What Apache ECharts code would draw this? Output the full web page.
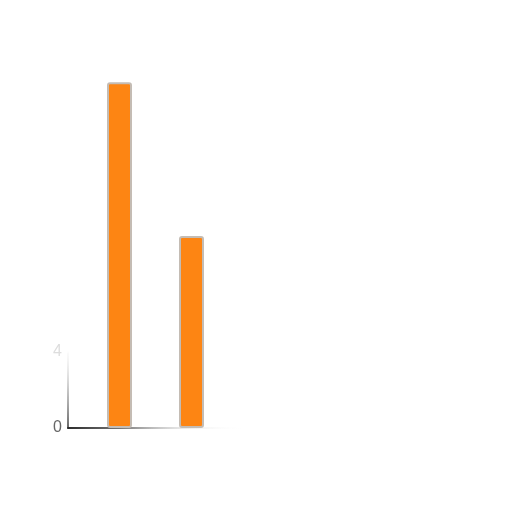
<!DOCTYPE html>
<html>
<head>
<meta charset="utf-8">
<script src="https://cdn.jsdelivr.net/npm/echarts@6/dist/echarts.min.js"></script>
<style>html,body{margin:0;padding:0;background:#fff}#c{width:512px;height:512px}</style>
</head>
<body>
<div id="c"></div>
<script>
var categories = [''];
var seriesA = [18.2];
var seriesB = [10.1];
var yTicks = ['0', '4'];

var chart = echarts.init(document.getElementById('c'));
var barStyle = {
  color: '#FD8513',
  borderColor: '#C4BCB4',
  borderWidth: 2,
  borderRadius: 2
};
chart.setOption({
  animation: false,
  grid: {left: 68, right: 269, top: 48, bottom: 84},
  xAxis: {
    type: 'category',
    data: categories,
    axisTick: {show: false},
    axisLabel: {show: false},
    axisLine: {lineStyle: {width: 2, color: new echarts.graphic.LinearGradient(0, 0, 1, 0, [
      {offset: 0, color: 'rgba(40,40,40,1)'},
      {offset: 0.3, color: 'rgba(80,80,80,0.8)'},
      {offset: 0.65, color: 'rgba(150,150,150,0.2)'},
      {offset: 1, color: 'rgba(255,255,255,0)'}
    ])}}
  },
  yAxis: {
    type: 'value',
    min: 0, max: 20, interval: 4,
    splitLine: {show: false},
    axisTick: {show: false},
    axisLine: {show: true, lineStyle: {width: 1.5, color: new echarts.graphic.LinearGradient(0, 1, 0, 0, [
      {offset: 0, color: 'rgba(40,40,40,1)'},
      {offset: 0.1, color: 'rgba(120,120,120,0.6)'},
      {offset: 0.2, color: 'rgba(220,220,220,0.2)'},
      {offset: 0.21, color: 'rgba(255,255,255,0)'},
      {offset: 1, color: 'rgba(255,255,255,0)'}
    ])}},
    axisLabel: {
      fontSize: 16,
      margin: 6,
      formatter: function (v) { var s = String(v); return yTicks.indexOf(s) >= 0 ? s : ''; },
      color: function (v) { return String(v) === '0' ? '#666' : '#ddd'; }
    }
  },
  series: [
    {type: 'bar', data: seriesA, barWidth: 25, barGap: '188%', itemStyle: barStyle},
    {type: 'bar', data: seriesB, barWidth: 25, barGap: '188%', itemStyle: barStyle}
  ]
});
</script>
</body>
</html>
